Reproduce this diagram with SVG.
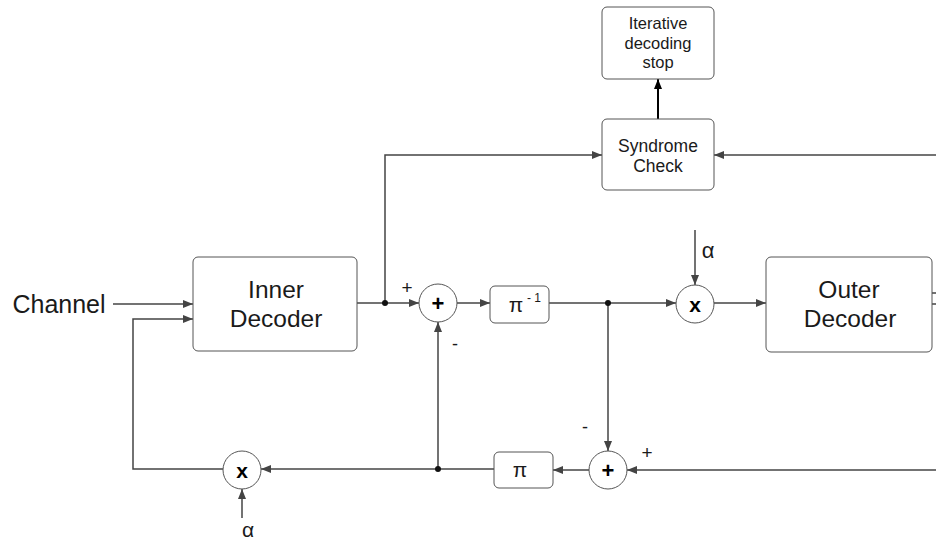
<svg xmlns="http://www.w3.org/2000/svg" width="936" height="544" viewBox="0 0 936 544">
<style>
.box{fill:#fff;stroke:#555;stroke-width:1}
.circ{fill:#fff;stroke:#555;stroke-width:1}
.ln{fill:none;stroke:#444;stroke-width:1.5}
.t{font-family:"Liberation Sans",Arial,sans-serif;fill:#1a1a1a;text-anchor:middle}
.op{font-family:"Liberation Sans",Arial,sans-serif;font-weight:bold;fill:#000;text-anchor:middle}
</style>
<defs>
<marker id="ah" viewBox="0 0 10 10" refX="10" refY="5" markerWidth="10" markerHeight="10" markerUnits="userSpaceOnUse" orient="auto"><path d="M0,1 L10,5 L0,9 z" fill="#444"/></marker>
<marker id="ahk" viewBox="0 0 10 10" refX="10" refY="5" markerWidth="10" markerHeight="10" markerUnits="userSpaceOnUse" orient="auto"><path d="M0,1 L10,5 L0,9 z" fill="#000"/></marker>
</defs>
<g id="connectors">
<path class="ln" d="M113,304 H193" marker-end="url(#ah)"/>
<path class="ln" d="M438,469 H261" marker-end="url(#ah)"/>
<path class="ln" d="M223,469 H133 V319 H193" marker-end="url(#ah)"/>
<path class="ln" d="M242,518 V489" marker-end="url(#ah)"/>
<path class="ln" d="M357,303 H419" marker-end="url(#ah)"/>
<path class="ln" d="M385,303 V155 H602" marker-end="url(#ah)"/>
<path class="ln" d="M936,155 H714" marker-end="url(#ah)"/>
<path d="M658,119 V79" fill="none" stroke="#000" stroke-width="2" marker-end="url(#ahk)"/>
<path class="ln" d="M438,469 V322" marker-end="url(#ah)"/>
<path class="ln" d="M457,303 H490" marker-end="url(#ah)"/>
<path class="ln" d="M549,303 H676" marker-end="url(#ah)"/>
<path class="ln" d="M695,230 V285" marker-end="url(#ah)"/>
<path class="ln" d="M714,303 H766" marker-end="url(#ah)"/>
<path class="ln" d="M608,303 V451" marker-end="url(#ah)"/>
<path class="ln" d="M936,470 H627" marker-end="url(#ah)"/>
<path class="ln" d="M589,470 H553" marker-end="url(#ah)"/>
<path class="ln" d="M494,469 H438"/>
<path class="ln" d="M932,293 H936 M932,304 H936"/>
<circle cx="385" cy="303" r="3" fill="#111"/>
<circle cx="608" cy="303" r="3" fill="#111"/>
<circle cx="438" cy="469" r="3" fill="#111"/>
</g>
<g id="channel"><text class="t" x="59" y="313" font-size="25">Channel</text></g>
<g id="inner-decoder">
<rect class="box" x="193" y="257" width="164" height="94" rx="5"/>
<text class="t" x="276" y="298" font-size="24.5">Inner</text>
<text class="t" x="276" y="327" font-size="24.5">Decoder</text>
</g>
<g id="outer-decoder">
<rect class="box" x="766" y="257" width="166" height="95" rx="5"/>
<text class="t" x="849" y="298" font-size="24.5">Outer</text>
<text class="t" x="850" y="327" font-size="24.5">Decoder</text>
</g>
<g id="syndrome-check">
<rect class="box" x="602" y="119" width="112" height="71" rx="5"/>
<text class="t" x="658" y="152" font-size="17.5">Syndrome</text>
<text class="t" x="658" y="172" font-size="17.5">Check</text>
</g>
<g id="stop">
<rect class="box" x="602" y="7" width="112" height="72" rx="5"/>
<text class="t" x="658" y="29" font-size="16.5">Iterative</text>
<text class="t" x="658" y="49" font-size="16.5">decoding</text>
<text class="t" x="658" y="68" font-size="16.5">stop</text>
</g>
<g id="sum1">
<circle class="circ" cx="438" cy="303" r="19"/>
<text class="op" x="438" y="311" font-size="22">+</text>
<text class="t" x="407" y="294" font-size="19">+</text>
<text class="t" x="455" y="350" font-size="18">-</text>
</g>
<g id="deinterleaver">
<rect class="box" x="490" y="286" width="59" height="37" rx="5"/>
<text class="t" x="516" y="312" font-size="21">π</text>
<text class="t" x="534" y="302" font-size="12">- 1</text>
</g>
<g id="mult1">
<circle class="circ" cx="695" cy="304" r="19"/>
<text class="op" x="695" y="312" font-size="21">x</text>
<text class="t" x="708" y="258" font-size="22">α</text>
</g>
<g id="sum2">
<circle class="circ" cx="608" cy="470" r="19"/>
<text class="op" x="608" y="478" font-size="22">+</text>
<text class="t" x="647" y="459" font-size="19">+</text>
<text class="t" x="585" y="433" font-size="18">-</text>
</g>
<g id="interleaver">
<rect class="box" x="494" y="452" width="59" height="36" rx="5"/>
<text class="t" x="520" y="477" font-size="21">π</text>
</g>
<g id="mult2">
<circle class="circ" cx="242" cy="470" r="19"/>
<text class="op" x="242" y="478" font-size="21">x</text>
<text class="t" x="248" y="537" font-size="21">α</text>
</g>
</svg>
